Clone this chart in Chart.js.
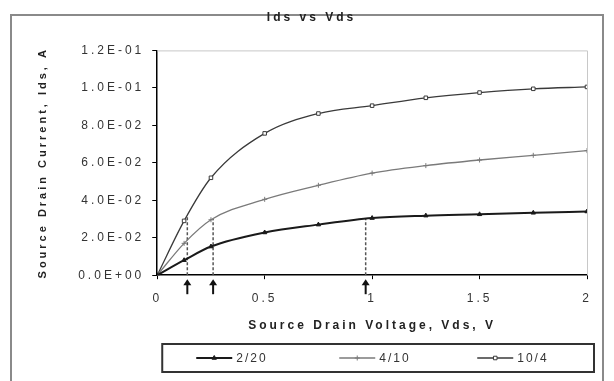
<!DOCTYPE html>
<html>
<head>
<meta charset="utf-8">
<script src="https://cdn.jsdelivr.net/npm/chart.js@4/dist/chart.umd.min.js"></script>
<style>
  html, body { margin: 0; padding: 0; background: #fff; }
  #wrap { position: relative; width: 614px; height: 381px; overflow: hidden; }
  #frame { position: absolute; left: 10px; top: 14px; width: 594px; height: 380px;
           border: 2px solid #8a8a8a; border-bottom: none; box-sizing: border-box; }
  canvas { position: absolute; left: 0; top: 0; }
</style>
</head>
<body>
<div id="wrap">
  <div id="frame"></div>
  <canvas id="chart" width="614" height="381"></canvas>
</div>
<script>
// Dados
const vds = [0, 0.125, 0.25, 0.5, 0.75, 1, 1.25, 1.5, 1.75, 2];
const ids_2_20 = [0, 0.008, 0.0153, 0.0228, 0.027, 0.0305, 0.0318, 0.0325, 0.0333, 0.034];
const ids_4_10 = [0, 0.017, 0.0296, 0.0405, 0.048, 0.0545, 0.0585, 0.0615, 0.064, 0.0665];
const ids_10_4 = [0, 0.029, 0.052, 0.0757, 0.0863, 0.0905, 0.0947, 0.0975, 0.0995, 0.1005];
const seriesNames = ['2/20', '4/10', '10/4'];

// pontos de saturação (setas)
const satVds = [0.14, 0.26, 0.97];
const satIds = [0.031, 0.030, 0.0305];

const xTicks = [0, 0.5, 1, 1.5, 2];

const FONT = '"Liberation Sans", Arial, sans-serif';
const SPACING = '3px';

function toPoints(ys) {
    return vds.map((x, i) => ({ x: x, y: ys[i] }));
}

function sciLabel(v) {
    const s = Number(v).toExponential(1).toUpperCase();
    const m = s.match(/^(-?[\d.]+)E([+-])(\d+)$/);
    return m[1] + 'E' + m[2] + m[3].padStart(2, '0');
}

const curveStyles = [
    { color: '#1a1a1a', width: 2, point: 'triangle', fill: '#1a1a1a' },
    { color: '#7a7a7a', width: 1.3, point: 'cross', fill: '#7a7a7a' },
    { color: '#3a3a3a', width: 1.3, point: 'rect', fill: '#ffffff' }
];

const datasets = [ids_2_20, ids_4_10, ids_10_4].map((ys, i) => ({
    label: seriesNames[i],
    data: toPoints(ys),
    borderColor: curveStyles[i].color,
    borderWidth: curveStyles[i].width,
    pointStyle: curveStyles[i].point,
    pointRadius: 2.5,
    pointBorderWidth: 1,
    pointBorderColor: curveStyles[i].color,
    pointBackgroundColor: curveStyles[i].fill,
    cubicInterpolationMode: 'monotone',
    fill: false
}));

// linhas tracejadas verticais até as curvas
satVds.forEach((x, i) => {
    datasets.push({
        label: 'sat' + i,
        data: [{ x: x, y: 0 }, { x: x, y: satIds[i] }],
        borderColor: '#555',
        borderWidth: 1.5,
        borderDash: [3, 2],
        pointRadius: 0,
        fill: false,
        isGuide: true
    });
});

// Plugin: espaçamento do texto, borda da área, setas e legenda
const decorations = {
    id: 'decorations',
    beforeLayout(chart) {
        chart.ctx.letterSpacing = SPACING;
    },
    beforeDraw(chart) {
        chart.ctx.letterSpacing = SPACING;
    },
    beforeDatasetsDraw(chart) {
        const { ctx, chartArea } = chart;
        ctx.save();
        ctx.strokeStyle = '#c8c8c8';
        ctx.lineWidth = 1;
        ctx.beginPath();
        ctx.moveTo(chartArea.left, chartArea.top + 0.5);
        ctx.lineTo(chartArea.right + 0.5, chartArea.top + 0.5);
        ctx.lineTo(chartArea.right + 0.5, chartArea.bottom);
        ctx.stroke();
        ctx.restore();
    },
    afterDraw(chart) {
        const { ctx, chartArea } = chart;
        const xs = chart.scales.x;
        ctx.save();
        // setas
        ctx.strokeStyle = '#111';
        ctx.fillStyle = '#111';
        ctx.lineWidth = 2;
        satVds.forEach(v => {
            const px = xs.getPixelForValue(v);
            const top = chartArea.bottom + 4;
            ctx.beginPath();
            ctx.moveTo(px, top + 4);
            ctx.lineTo(px, top + 15);
            ctx.stroke();
            ctx.beginPath();
            ctx.moveTo(px, top);
            ctx.lineTo(px - 4, top + 6);
            ctx.lineTo(px + 4, top + 6);
            ctx.closePath();
            ctx.fill();
        });

        // legenda
        const lx = chartArea.left + 5, lw = chartArea.right - chartArea.left + 2;
        const ly = 344, lh = 28;
        ctx.lineWidth = 2;
        ctx.strokeStyle = '#333';
        ctx.strokeRect(lx, ly, lw, lh);
        const items = chart.data.datasets.filter(d => !d.isGuide);
        const starts = [lx + 34, lx + 177, lx + 315];
        ctx.font = '12px ' + FONT;
        ctx.letterSpacing = '2px';
        ctx.textBaseline = 'middle';
        items.forEach((d, i) => {
            const y = ly + lh / 2;
            const x0 = starts[i];
            ctx.strokeStyle = d.borderColor;
            ctx.lineWidth = d.borderWidth;
            ctx.beginPath();
            ctx.moveTo(x0, y);
            ctx.lineTo(x0 + 36, y);
            ctx.stroke();
            ctx.fillStyle = d.pointBackgroundColor;
            ctx.strokeStyle = d.pointBorderColor;
            ctx.lineWidth = 1;
            Chart.helpers.drawPoint(ctx, {
                pointStyle: d.pointStyle, radius: 2.5, rotation: 0, borderWidth: 1
            }, x0 + 18, y);
            ctx.fillStyle = '#333';
            ctx.fillText(d.label, x0 + 40, y + 1);
        });
        ctx.restore();
    }
};

new Chart(document.getElementById('chart'), {
    type: 'line',
    data: { datasets: datasets },
    options: {
        responsive: false,
        animation: false,
        layout: { padding: { left: 36, right: 27, top: 2, bottom: 48 } },
        plugins: {
            legend: { display: false },
            tooltip: { enabled: false },
            title: {
                display: true,
                text: 'Ids vs Vds',
                color: '#222',
                font: { family: FONT, size: 12, weight: 'bold' },
                padding: { top: 8, bottom: 26 }
            }
        },
        scales: {
            x: {
                type: 'linear',
                min: 0,
                max: 2,
                afterBuildTicks: axis => { axis.ticks = xTicks.map(v => ({ value: v })); },
                ticks: {
                    color: '#333',
                    font: { family: FONT, size: 12 },
                    padding: 12,
                    callback: v => String(v)
                },
                grid: { drawOnChartArea: false, drawTicks: true, tickLength: 4, color: '#000' },
                border: { color: '#000', width: 1.5 },
                title: {
                    display: true,
                    text: 'Source Drain Voltage, Vds, V',
                    color: '#222',
                    font: { family: FONT, size: 12, weight: 'bold' },
                    padding: { top: 1, bottom: 0 }
                }
            },
            y: {
                min: 0,
                max: 0.12,
                ticks: {
                    stepSize: 0.02,
                    color: '#333',
                    font: { family: FONT, size: 12 },
                    padding: 8,
                    callback: v => sciLabel(v)
                },
                grid: { drawOnChartArea: false, drawTicks: true, tickLength: 5, color: '#000' },
                border: { color: '#000', width: 1.5 },
                title: {
                    display: true,
                    text: 'Source Drain Current, Ids, A',
                    color: '#222',
                    font: { family: FONT, size: 11, weight: 'bold' },
                    padding: { top: 0, bottom: 21 }
                }
            }
        }
    },
    plugins: [decorations]
});
</script>
</body>
</html>
